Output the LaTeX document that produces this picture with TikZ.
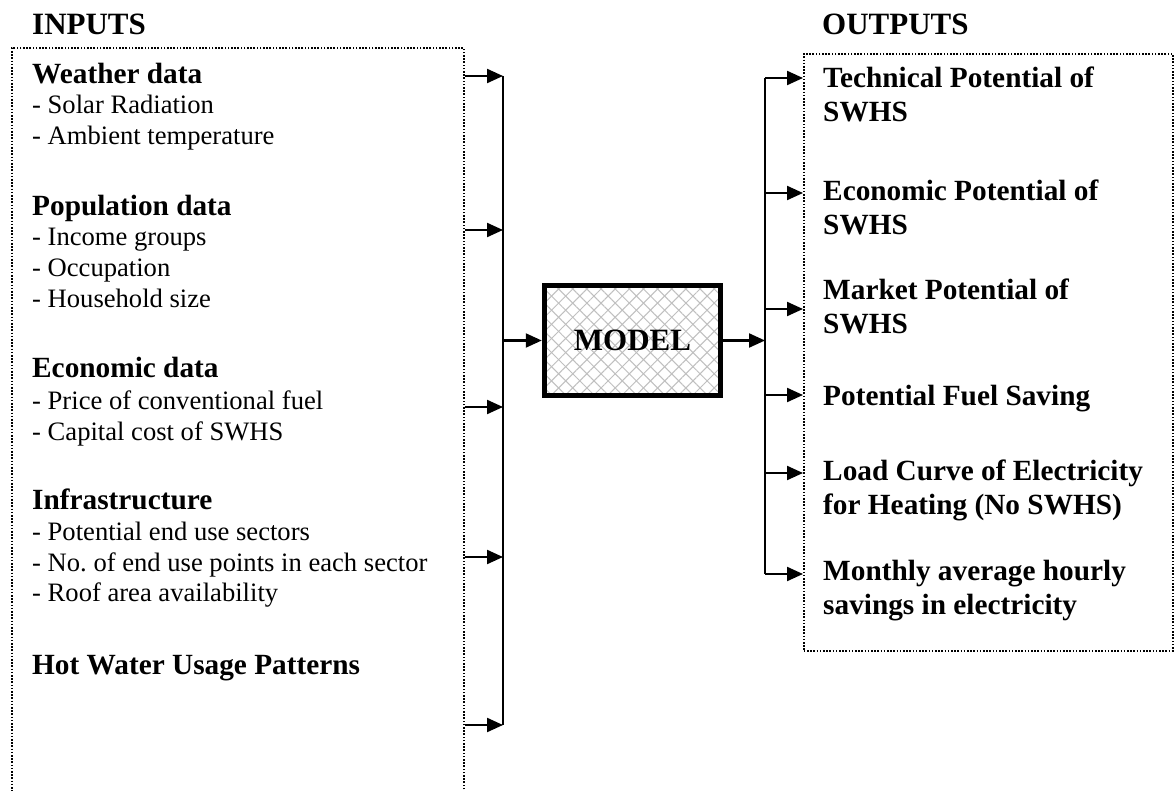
\documentclass[tikz,border=0pt]{standalone}
\usepackage{fontspec}
\setmainfont{Liberation Serif}
\usetikzlibrary{arrows.meta,patterns.meta}
\frenchspacing
\begin{document}
\begin{tikzpicture}[x=1pt,y=-1pt,
  conn/.style={line width=2.2pt},
  arr/.style={line width=2.2pt,-{Triangle[length=16pt,width=14pt]}},
  frame/.style={draw,line width=1.6pt,dash pattern=on 1.6pt off 1.6pt,inner sep=0pt},
  title/.style={anchor=base west,inner sep=0pt,font=\fontsize{31}{36}\selectfont\bfseries},
  head/.style={anchor=base west,inner sep=0pt,font=\fontsize{29.3}{34}\selectfont\bfseries},
  item/.style={anchor=base west,inner sep=0pt,font=\fontsize{26.6}{31}\selectfont},
  hatch/.style={pattern={Lines[angle=#1,distance=10pt,line width=1pt]},pattern color=black!25},
]
\useasboundingbox[fill=white] (0,0) rectangle (1174,791);

% titles
\node[title] (tin) at (32,35) {INPUTS};
\node[title] (tout) at (822,35) {OUTPUTS};

% frames
\node[frame,minimum width=452pt,minimum height=760pt,anchor=north west] (inbox) at (11,47) {};
\node[frame,minimum width=369pt,minimum height=597pt,anchor=north west] (outbox) at (803,53) {};

% input texts
\node[head] (h1) at (32,84) {Weather data};
\node[item] (i11) at (32,114) {- Solar Radiation};
\node[item] (i12) at (32,145) {- Ambient temperature};
\node[head] (h2) at (32,216) {Population data};
\node[item] (i21) at (32,246) {- Income groups};
\node[item] (i22) at (32,277) {- Occupation};
\node[item] (i23) at (32,308) {- Household size};
\node[head] (h3) at (32,377) {Economic data};
\node[item] (i31) at (32,409) {- Price of conventional fuel};
\node[item] (i32) at (32,440) {- Capital cost of SWHS};
\node[head] (h4) at (32,509) {Infrastructure};
\node[item] (i41) at (32,540) {- Potential end use sectors};
\node[item] (i42) at (32,571) {- No. of end use points in each sector};
\node[item] (i43) at (32,601) {- Roof area availability};
\node[head] (h5) at (32,674) {Hot Water Usage Patterns};

% output texts
\node[head] (o1a) at (823,88) {Technical Potential of};
\node[head] (o1b) at (823,122) {SWHS};
\node[head] (o2a) at (823,201) {Economic Potential of};
\node[head] (o2b) at (823,235) {SWHS};
\node[head] (o3a) at (823,299) {Market Potential of};
\node[head] (o3b) at (823,333) {SWHS};
\node[head] (o4) at (823,405) {Potential Fuel Saving};
\node[head] (o5a) at (823,480) {Load Curve of Electricity};
\node[head] (o5b) at (823,514) {for Heating (No SWHS)};
\node[head] (o6a) at (823,580) {Monthly average hourly};
\node[head] (o6b) at (823,614) {savings in electricity};

% model
\node[draw,line width=5.5pt,minimum width=176pt,minimum height=110pt,inner sep=0pt,
  preaction={hatch=45},preaction={hatch=-45},
  font=\fontsize{31}{36}\selectfont\bfseries] (model) at (632.5,340.5) {MODEL};

% input collector
\coordinate (ia1) at (503,76);
\coordinate (ia2) at (503,230);
\coordinate (ia3) at (503,407);
\coordinate (ia4) at (503,557);
\coordinate (ia5) at (503,725);
\foreach \c in {ia1,ia2,ia3,ia4,ia5}
  \draw[arr] (inbox.east |- \c) -- (\c);
\draw[conn] (ia1) -- (ia5);
\draw[arr] (ia1 |- model.west) -- (model.west);

% output collector
\coordinate (oa1) at (765,78);
\coordinate (oa2) at (765,193);
\coordinate (oa3) at (765,309);
\coordinate (oa4) at (765,395);
\coordinate (oa5) at (765,473);
\coordinate (oa6) at (765,574);
\draw[conn] (oa1) -- (oa6);
\draw[arr] (model.east) -- (model.east -| oa1);
\foreach \c in {oa1,oa2,oa3,oa4,oa5,oa6}
  \draw[arr] (\c) -- (\c -| outbox.west);
\end{tikzpicture}
\end{document}
